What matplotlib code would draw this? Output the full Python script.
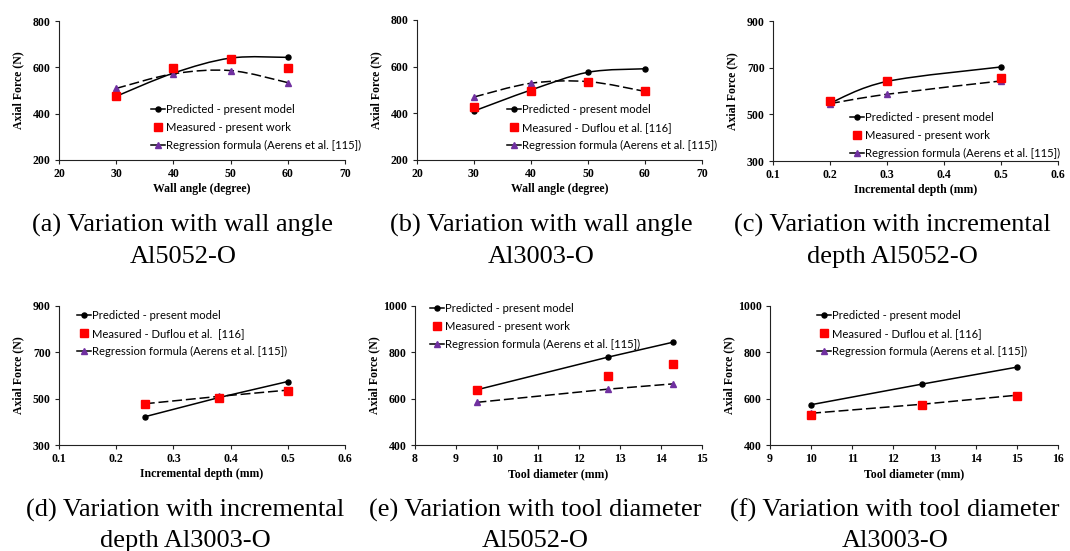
import matplotlib
matplotlib.use('Agg')
import matplotlib.pyplot as plt
from matplotlib.path import Path
from matplotlib.patches import PathPatch
from matplotlib.lines import Line2D
import numpy as np

# ---------------- data ----------------
a_x = [30, 40, 50, 60]
a_pred = [475, 575, 640, 643]
a_meas = [476, 598, 638, 597]
a_reg = [509, 572, 586, 534]

b_x = [30, 40, 50, 60]
b_pred = [410, 500, 576, 591]
b_meas = [429, 497, 534, 494]
b_reg = [470, 529, 536, 494]

c_x = [0.2, 0.3, 0.5]
c_pred = [548, 641, 703]
c_meas = [556, 641, 656]
c_reg = [546, 586, 643]

d_x = [0.25, 0.38, 0.5]
d_pred = [422, 505, 574]
d_meas = [478, 503, 531]
d_reg = [478, 510, 537]

e_x = [9.5, 12.7, 14.3]
e_pred = [638, 779, 844]
e_meas = [638, 697, 748]
e_reg = [584, 641, 664]

f_x = [10, 12.7, 15]
f_pred = [574, 663, 736]
f_meas = [531, 571, 613]
f_reg = [537, 576, 615]

a_xticks = [20, 30, 40, 50, 60, 70]
a_yticks = [200, 400, 600, 800]
c_xticks = [0.1, 0.2, 0.3, 0.4, 0.5, 0.6]
c_yticks = [300, 500, 700, 900]
e_xticks = [8, 9, 10, 11, 12, 13, 14, 15]
f_xticks = [9, 10, 11, 12, 13, 14, 15, 16]
e_yticks = [400, 600, 800, 1000]

lab_pred = "Predicted - present model"
lab_meas_pw = "Measured - present work"
lab_meas_du = "Measured - Duflou et al. [116]"
lab_meas_du2 = "Measured - Duflou et al.  [116]"
lab_reg = "Regression formula (Aerens et al. [115])"

# ---------------- layout ----------------
W, H = 1070, 551
fig = plt.figure(figsize=(W / 100, H / 100), dpi=100)
SERIF = ['Liberation Serif', 'DejaVu Serif']
SANS = ['Lato', 'DejaVu Sans']
PURPLE = '#7030A0'
RED = '#FF0000'


def fx(px):
    return px / W


def fy(py):
    return 1 - py / H


def smooth_path(x, y):
    P = np.column_stack([x, y]).astype(float)
    n = len(P)
    verts = [P[0]]
    codes = [Path.MOVETO]
    for i in range(n - 1):
        p0 = P[i - 1] if i > 0 else P[i]
        p1 = P[i]
        p2 = P[i + 1]
        p3 = P[i + 2] if i + 2 < n else P[i + 1]
        c1 = p1 + (p2 - p0) / 6.0
        c2 = p2 - (p3 - p1) / 6.0
        verts += [c1, c2, p2]
        codes += [Path.CURVE4] * 3
    return Path(verts, codes)


panels = [
    dict(rect=(59, 21, 345, 160), x=a_x, pred=a_pred, meas=a_meas, reg=a_reg,
         xlim=(20, 70), ylim=(200, 800), xt=a_xticks, yt=a_yticks, fmt='{:g}',
         xlabel='Wall angle (degree)', smooth_pred=True, smooth_reg=True,
         mlab=lab_meas_pw, leg=(151, 104),
         cap=("(a) Variation with wall angle", "Al5052-O"), capx=183, capy=(232, 263)),
    dict(rect=(417, 20, 702, 160), x=b_x, pred=b_pred, meas=b_meas, reg=b_reg,
         xlim=(20, 70), ylim=(200, 800), xt=a_xticks, yt=a_yticks, fmt='{:g}',
         xlabel='Wall angle (degree)', smooth_pred=True, smooth_reg=True,
         mlab=lab_meas_du, leg=(507, 104),
         cap=("(b) Variation with wall angle", "Al3003-O"), capx=541, capy=(232, 263)),
    dict(rect=(773, 21, 1058, 161), x=c_x, pred=c_pred, meas=c_meas, reg=c_reg,
         xlim=(0.1, 0.6), ylim=(300, 900), xt=c_xticks, yt=c_yticks, fmt='{:.1f}',
         xlabel='Incremental depth (mm)', smooth_pred=True, smooth_reg=True,
         mlab=lab_meas_pw, leg=(850, 112),
         cap=("(c) Variation with incremental", "depth Al5052-O"), capx=892, capy=(232, 263)),
    dict(rect=(59, 306, 345, 445), x=d_x, pred=d_pred, meas=d_meas, reg=d_reg,
         xlim=(0.1, 0.6), ylim=(300, 900), xt=c_xticks, yt=c_yticks, fmt='{:.1f}',
         xlabel='Incremental depth (mm)', smooth_pred=False, smooth_reg=False,
         mlab=lab_meas_du2, leg=(77, 310),
         cap=("(d) Variation with incremental", "depth Al3003-O"), capx=185, capy=(517, 547)),
    dict(rect=(415, 306, 702, 445), x=e_x, pred=e_pred, meas=e_meas, reg=e_reg,
         xlim=(8, 15), ylim=(400, 1000), xt=e_xticks, yt=e_yticks, fmt='{:g}',
         xlabel='Tool diameter (mm)', smooth_pred=False, smooth_reg=False,
         mlab=lab_meas_pw, leg=(430, 303),
         cap=("(e) Variation with tool diameter", "Al5052-O"), capx=535, capy=(517, 547)),
    dict(rect=(770, 306, 1058, 445), x=f_x, pred=f_pred, meas=f_meas, reg=f_reg,
         xlim=(9, 16), ylim=(400, 1000), xt=f_xticks, yt=e_yticks, fmt='{:g}',
         xlabel='Tool diameter (mm)', smooth_pred=False, smooth_reg=False,
         mlab=lab_meas_du, leg=(817, 310),
         cap=("(f) Variation with tool diameter", "Al3003-O"), capx=895, capy=(517, 547)),
]

LW = 1.1
DASH = (6.5, 2.5)
MS_C, MS_S, MS_T = 3.6, 5.2, 4.0

for p in panels:
    l, t, r, b = p['rect']
    ax = fig.add_axes([fx(l), fy(b), (r - l) / W, (b - t) / H])
    ax.set_xlim(*p['xlim'])
    ax.set_ylim(*p['ylim'])
    for s in ('top', 'right'):
        ax.spines[s].set_visible(False)
    for s in ('left', 'bottom'):
        ax.spines[s].set_color('#222222')
        ax.spines[s].set_linewidth(0.8)
    ax.set_xticks(p['xt'])
    ax.set_yticks(p['yt'])
    ax.set_xticklabels([p['fmt'].format(v) for v in p['xt']])
    ax.set_yticklabels(['{:g}'.format(v) for v in p['yt']])
    ax.tick_params(direction='out', length=3, width=0.8, color='#222222', pad=3,
                   labelsize=8.5)
    for lbl in ax.get_xticklabels() + ax.get_yticklabels():
        lbl.set_family(SERIF)
        lbl.set_fontweight('bold')
    ax.patch.set_alpha(0)

    x = p['x']
    # predicted
    if p['smooth_pred']:
        ax.add_patch(PathPatch(smooth_path(x, p['pred']), fill=False, ec='black', lw=LW, zorder=2))
    else:
        ax.plot(x, p['pred'], color='black', lw=LW, zorder=2)
    ax.plot(x, p['pred'], 'o', color='black', ms=MS_C, zorder=3)
    # regression
    if p['smooth_reg']:
        ax.add_patch(PathPatch(smooth_path(x, p['reg']), fill=False, ec='black', lw=LW,
                               linestyle=(0, DASH), zorder=2))
    else:
        ax.plot(x, p['reg'], color='black', lw=LW, dashes=DASH, zorder=2)
    ax.plot(x, p['reg'], '^', color=PURPLE, ms=MS_T, zorder=3)
    # measured
    ax.plot(x, p['meas'], 's', color=RED, ms=MS_S, zorder=4)

    handles = [
        Line2D([], [], color='black', lw=LW, marker='o', ms=MS_C),
        Line2D([], [], color=RED, lw=0, marker='s', ms=MS_S),
        Line2D([], [], color='black', lw=LW, marker='^', ms=MS_T,
               markerfacecolor=PURPLE, markeredgecolor=PURPLE),
    ]
    lx, ly = p['leg']
    ax.legend(handles, [lab_pred, p['mlab'], lab_reg], loc='upper left',
              bbox_to_anchor=(fx(lx), fy(ly)), bbox_transform=fig.transFigure,
              frameon=False, borderpad=0, borderaxespad=0, handlelength=1.25,
              handletextpad=0.1, labelspacing=0.6, numpoints=1,
              prop=dict(family=SANS, size=8.1))

    # axis labels
    fig.text(fx((l + r) / 2), fy(b + 29), p['xlabel'], ha='center', va='center',
             family=SERIF, fontweight='bold', fontsize=8.5)
    fig.text(fx(l - 41), fy((t + b) / 2), 'Axial Force (N)', ha='center', va='center',
             rotation=90, family=SERIF, fontweight='bold', fontsize=8.5)

    # caption
    fig.text(fx(p['capx']), fy(p['capy'][0]), p['cap'][0], ha='center', va='baseline',
             family=SERIF, fontsize=19)
    fig.text(fx(p['capx']), fy(p['capy'][1]), p['cap'][1], ha='center', va='baseline',
             family=SERIF, fontsize=19)

fig.savefig('out.png', dpi=100)
